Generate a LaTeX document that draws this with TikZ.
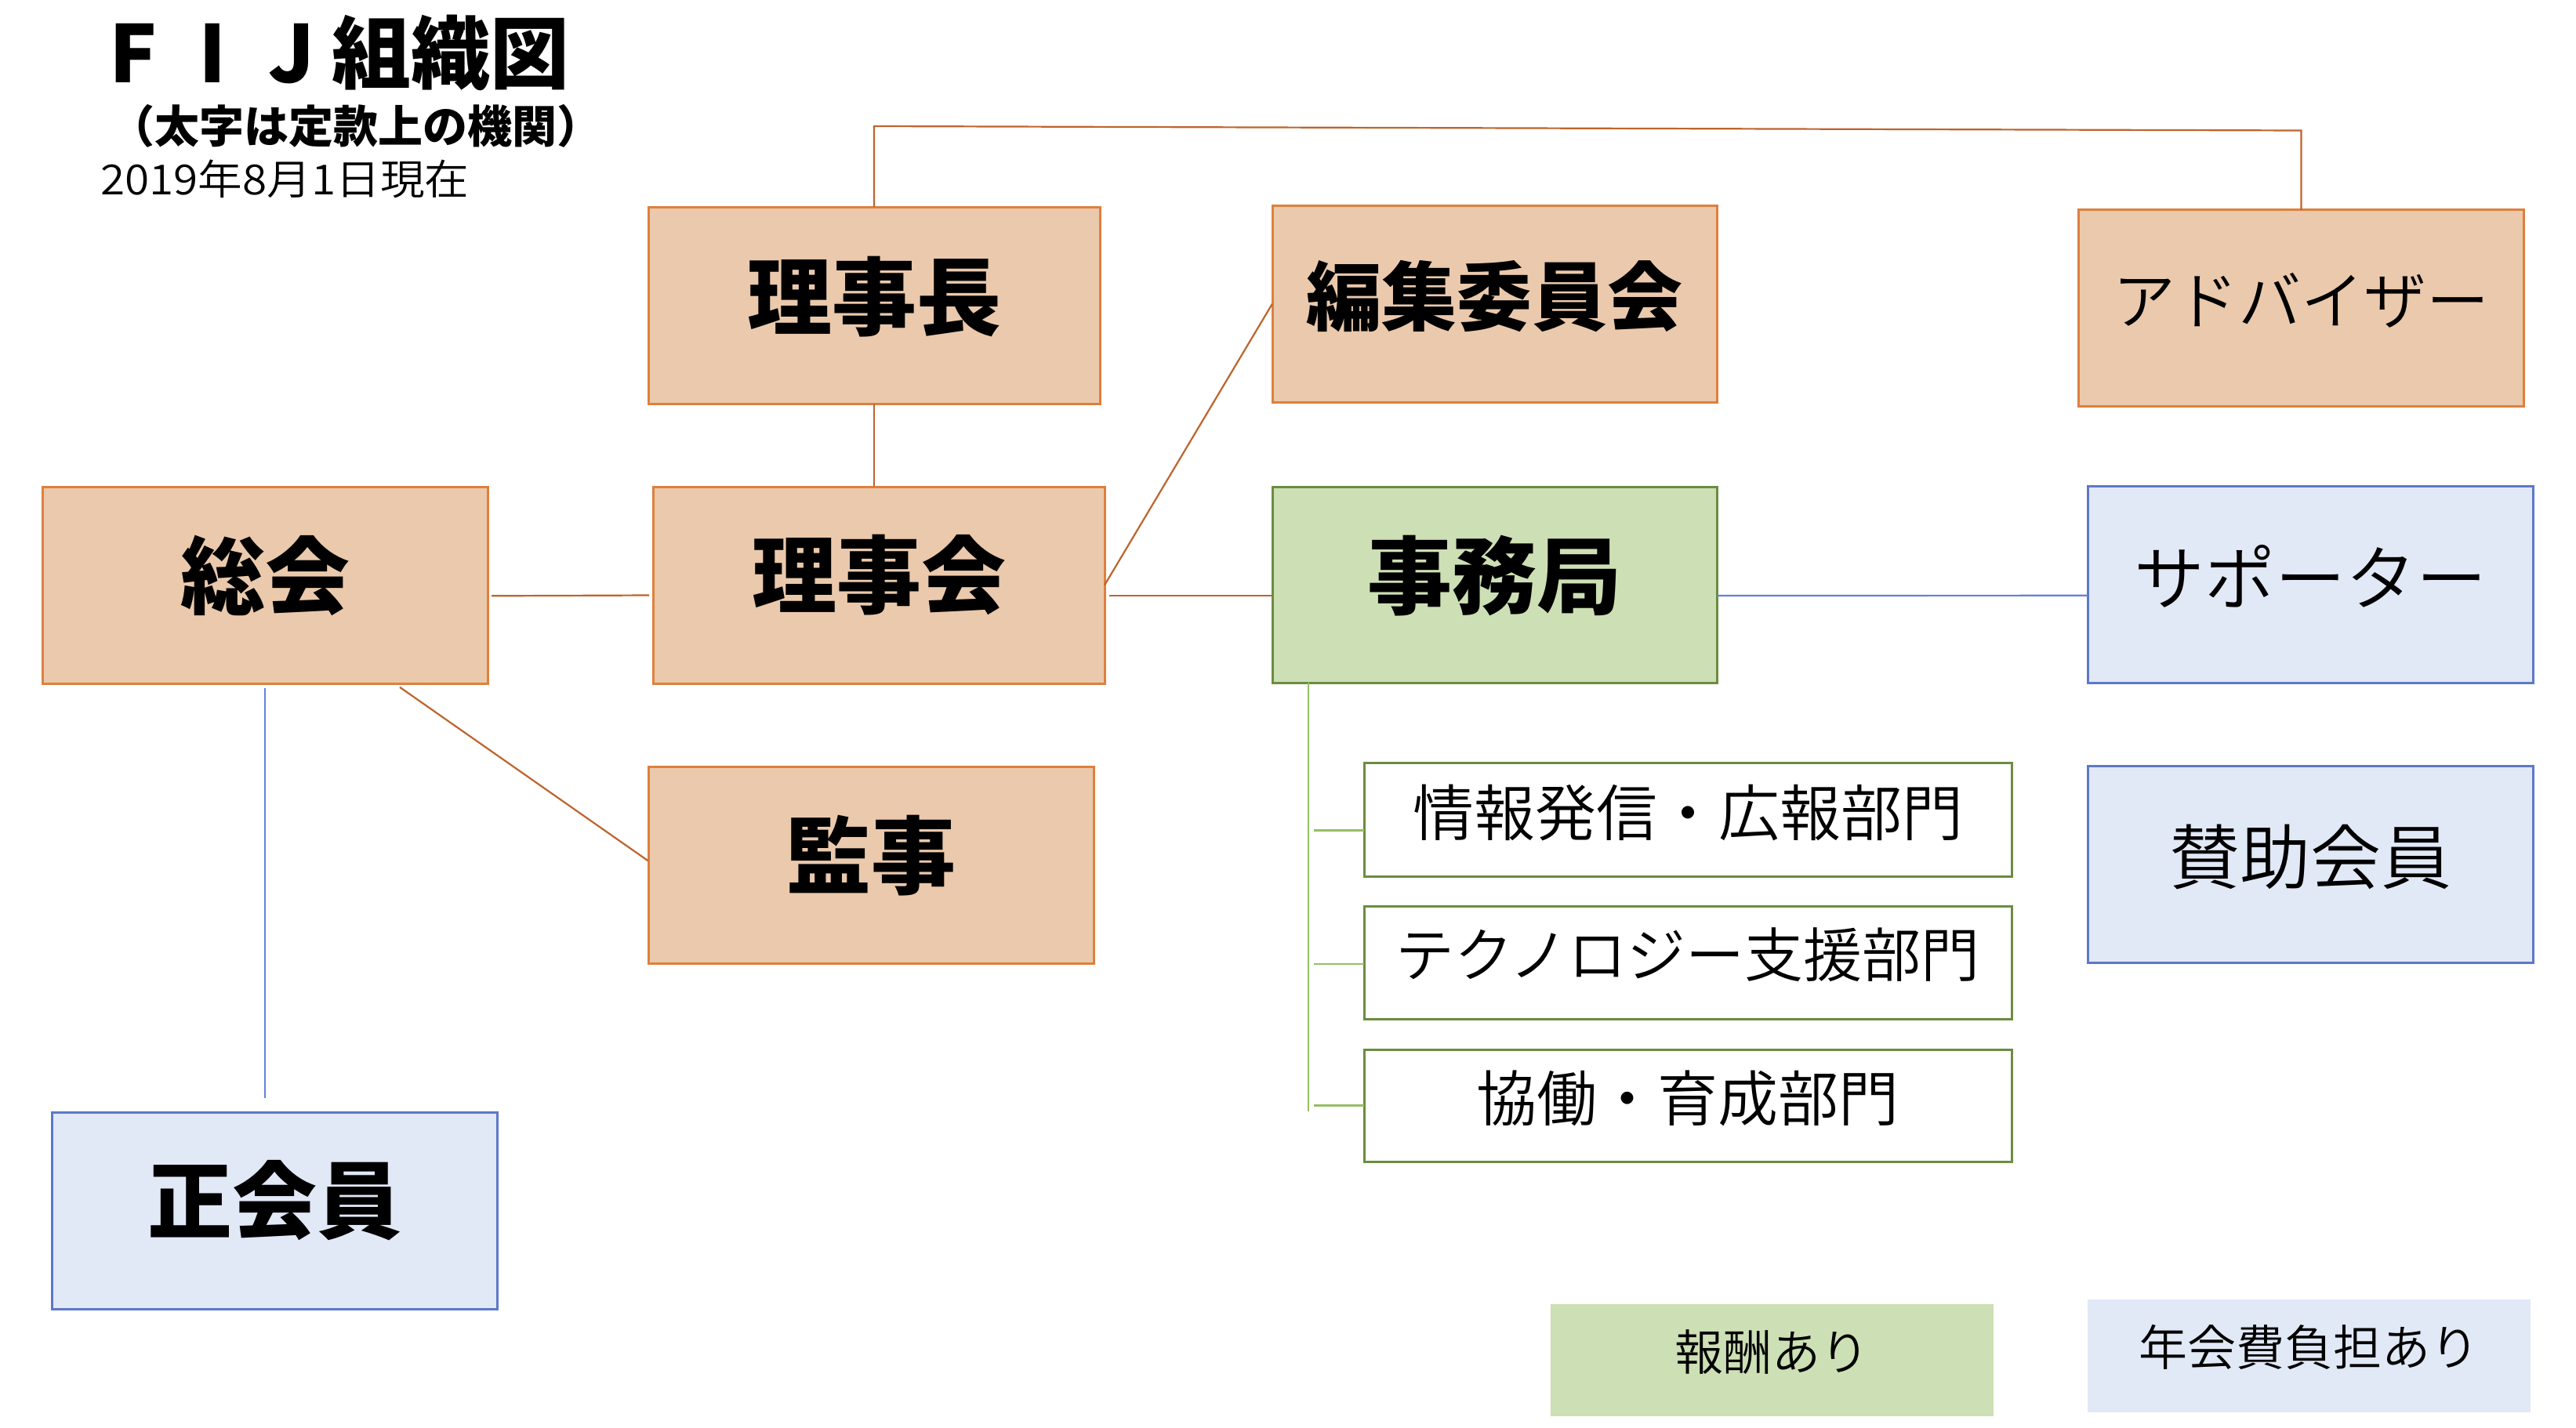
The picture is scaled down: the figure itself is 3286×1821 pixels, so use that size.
\documentclass[tikz,border=0pt]{standalone}
\usepackage{fontspec}
\setmainfont{Noto Sans CJK JP}
\newfontfamily\LightCJK{Noto Sans CJK JP DemiLight}
\definecolor{peach}{RGB}{235,201,172}
\definecolor{oborder}{RGB}{221,128,62}
\definecolor{olinec}{RGB}{190,100,45}
\definecolor{gfill}{RGB}{205,223,180}
\definecolor{gborder}{RGB}{108,140,64}
\definecolor{glinec}{RGB}{150,190,100}
\definecolor{bfill}{RGB}{225,232,246}
\definecolor{bborder}{RGB}{92,120,200}
\definecolor{blinec}{RGB}{100,130,212}
\newcommand\FntTitle{\fontsize{101pt}{112pt}\selectfont\bfseries}
\newcommand\FntSub{\fontsize{57pt}{66pt}\selectfont\bfseries}
\newcommand\FntDate{\fontsize{53pt}{60pt}\selectfont\LightCJK}
\newcommand\FntBig{\fontsize{108pt}{120pt}\selectfont\bfseries}
\newcommand\FntBigB{\fontsize{96pt}{110pt}\selectfont\bfseries}
\newcommand\FntKana{\fontsize{80pt}{90pt}\selectfont\LightCJK}
\newcommand\FntKanaB{\fontsize{90pt}{100pt}\selectfont\LightCJK}
\newcommand\FntSubA{\fontsize{78pt}{90pt}\selectfont\LightCJK}
\newcommand\FntSubB{\fontsize{75pt}{86pt}\selectfont\LightCJK}
\newcommand\FntSubC{\fontsize{77pt}{88pt}\selectfont\LightCJK}
\newcommand\FntLeg{\fontsize{62pt}{72pt}\selectfont\LightCJK}
\tikzset{
  basebox/.style={inner sep=0pt, outer sep=0pt, minimum width=568pt, minimum height=251pt},
  orgbox/.style={basebox, draw=oborder, fill=peach, line width=3pt},
  greenbox/.style={basebox, draw=gborder, fill=gfill, line width=3pt},
  bluebox/.style={basebox, draw=bborder, fill=bfill, line width=3pt},
  subbox/.style={inner sep=0pt, outer sep=0pt, minimum width=826pt, minimum height=144pt, draw=gborder, fill=white, line width=3pt},
  leggreen/.style={inner sep=0pt, outer sep=0pt, minimum width=565pt, minimum height=143pt, fill=gfill},
  legblue/.style={inner sep=0pt, outer sep=0pt, minimum width=565pt, minimum height=144pt, fill=bfill},
  olink/.style={draw=olinec, line width=2.2pt},
  glink/.style={draw=glinec, line width=2.2pt},
  blink/.style={draw=blinec, line width=2.2pt},
  plaintext/.style={inner sep=0pt, outer sep=0pt}
}
\begin{document}
\begin{tikzpicture}[x=1pt,y=-1pt]
\useasboundingbox (0,0) rectangle (3286,1821);
\fill[white] (0,0) rectangle (3286,1821);

% titles
\node[plaintext, font=\FntTitle] (title) at (423,67.5) {\makebox[101pt]{F}\makebox[101pt]{I}\makebox[101pt]{J}組織図};
\node[plaintext, font=\FntSub] (subtitle) at (454,161) {（太字は定款上の機関）};
\node[plaintext, font=\FntDate] (date) at (363.5,228) {\scalebox{1.07}[1]{2019年8月1日現在}};

% boxes
\node[orgbox, minimum width=576pt, label={[font=\FntBig, yshift=10.5pt]center:理事長}] (rijicho) at (1115,389.5) {};
\node[orgbox, minimum width=567pt, label={[font=\FntBigB, yshift=9pt]center:編集委員会}] (henshu) at (1906.5,387.5) {};
\node[orgbox, label={[font=\FntKana, yshift=10pt]center:アドバイザー}] (advisor) at (2935.5,393.3) {};
\node[orgbox, label={[font=\FntBig, yshift=13pt]center:総会}] (sokai) at (338,747.3) {};
\node[orgbox, minimum width=576pt, label={[font=\FntBig, yshift=12.5pt]center:理事会}] (rijikai) at (1121,746.5) {};
\node[greenbox, minimum width=567pt, minimum height=250pt, label={[font=\FntBig, yshift=11.5pt]center:事務局}] (jimukyoku) at (1906.5,746) {};
\node[bluebox, label={[font=\FntKanaB, yshift=10pt]center:サポーター}] (supporter) at (2947,745.8) {};
\node[orgbox, label={[font=\FntBig, yshift=12pt]center:監事}] (kanji) at (1111,1103.5) {};
\node[bluebox, label={[font=\FntKanaB, yshift=9pt]center:賛助会員}] (sanjo) at (2947,1102.5) {};
\node[bluebox, label={[font=\FntBig, yshift=14pt]center:正会員}] (seikai) at (350,1545.3) {};

\node[subbox, minimum height=145pt, label={[font=\FntSubA, yshift=9pt]center:情報発信・広報部門}] (sub1) at (2153,1045.5) {};
\node[subbox, label={[font=\FntSubB, yshift=9.5pt]center:テクノロジー支援部門}] (sub2) at (2153,1228) {};
\node[subbox, minimum height=143pt, label={[font=\FntSubC, yshift=9pt]center:協働・育成部門}] (sub3) at (2153,1410.5) {};

\node[leggreen, label={[font=\FntLeg, yshift=10pt]center:報酬あり}] (leg1) at (2260,1735.5) {};
\node[legblue, label={[font=\FntLeg, yshift=11pt]center:年会費負担あり}] (leg2) at (2945,1730) {};

% connectors
\coordinate (tl) at (1111,161);
\coordinate (tr) at (2935.5,166.5);
\draw[olink] (rijicho.north) -- (rijicho.north |- tl) -- (tr) -- (advisor.north);
\draw[olink] (rijicho.south) -- (rijicho.south |- rijikai.north);
\draw[olink] ([shift={(5,13)}]sokai.east) -- ([shift={(-5,13)}]rijikai.west);
\draw[olink] ([shift={(6,13.5)}]rijikai.east) -- ([shift={(0,14)}]jimukyoku.west);
\draw[olink] (rijikai.east) -- (henshu.west);
\draw[olink] ([shift={(172,4)}]sokai.south) -- ([shift={(0,-5)}]kanji.west);
\draw[blink] ([shift={(0,5)}]sokai.south) -- ([shift={(-12,-19)}]seikai.north);
\draw[blink] ([shift={(0,14)}]jimukyoku.east) -- ([shift={(0,14)}]supporter.west);

\coordinate (jb) at (1669,1418);
\draw[glink] ([xshift=46pt]jimukyoku.south west) -- (jb);
\draw[glink] ([shift={(-64,14)}]sub1.west) -- ([shift={(0,14)}]sub1.west);
\draw[glink] ([shift={(-64,2)}]sub2.west) -- ([shift={(0,2)}]sub2.west);
\draw[glink] ([shift={(-64,0)}]sub3.west) -- (sub3.west);
\end{tikzpicture}
\end{document}
